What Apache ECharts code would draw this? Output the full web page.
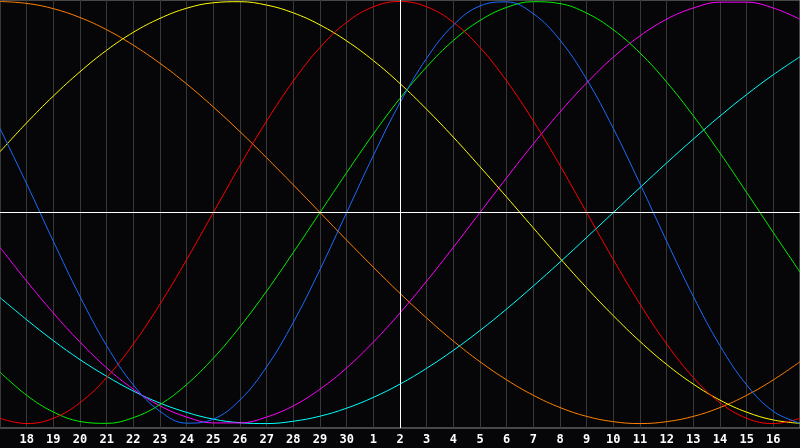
<!DOCTYPE html>
<html>
<head>
<meta charset="utf-8">
<script src="https://cdn.jsdelivr.net/npm/echarts@6/dist/echarts.min.js"></script>
<style>
html,body{margin:0;padding:0;background:#060608;}
#chart{width:800px;height:448px;}
</style>
</head>
<body>
<div id="chart"></div>
<script>
// Day labels along the x axis (first and last are hidden edges)
var days = ['17','18','19','20','21','22','23','24','25','26','27','28','29','30',
            '1','2','3','4','5','6','7','8','9','10','11','12','13','14','15','16','17'];
var todayLabel = '2';

// Curve values (percent) at each day line
var orangeVals = [100,99.1,96.6,92.4,86.6,79.3,70.7,60.9,50,38.3,25.9,13.1,0,-13.1,-25.9,-38.3,-50,-60.9,-70.7,-79.3,-86.6,-92.4,-96.6,-99.1,-100,-99.1,-96.6,-92.4,-86.6,-79.3,-70.7];
var yellowVals = [28.8,42.5,55.2,66.7,76.9,85.4,92.0,96.8,99.4,99.9,98.3,94.6,88.9,81.3,72.0,61.1,48.9,35.7,21.7,7.3,-7.3,-21.7,-35.7,-48.9,-61.1,-72.0,-81.3,-88.9,-94.6,-98.3,-99.9];
var cyanVals = [-40.3,-50.8,-60.7,-69.7,-77.6,-84.6,-90.3,-94.7,-97.9,-99.6,-100,-98.9,-96.5,-92.7,-87.6,-81.3,-73.8,-65.3,-55.9,-45.7,-34.8,-23.5,-11.8,0,11.8,23.5,34.8,45.7,55.9,65.3,73.8];
var magentaVals = [-16.5,-32.5,-47.6,-61.4,-73.6,-83.7,-91.6,-96.9,-99.7,-99.7,-96.9,-91.6,-83.7,-73.6,-61.4,-47.6,-32.5,-16.5,0,16.5,32.5,47.6,61.4,73.6,83.7,91.6,96.9,99.7,99.7,96.9,91.6];
var greenVals = [-75.6,-86.6,-94.5,-99.0,-99.9,-97.2,-91.0,-81.5,-69.0,-54.1,-37.2,-18.9,0,18.9,37.2,54.1,69.0,81.5,91.0,97.2,99.9,99.0,94.5,86.6,75.6,61.8,45.8,28.2,9.5,-9.5,-28.2];
var redVals = [-97.5,-100,-97.5,-90.1,-78.2,-62.3,-43.4,-22.3,0,22.3,43.4,62.3,78.2,90.1,97.5,100,97.5,90.1,78.2,62.3,43.4,22.3,0,-22.3,-43.4,-62.3,-78.2,-90.1,-97.5,-100,-97.5];
var blueVals = [39.8,13.6,-13.6,-39.8,-63.1,-81.7,-94.2,-99.8,-97.9,-88.8,-73.1,-52.0,-27.0,0,27.0,52.0,73.1,88.8,97.9,99.8,94.2,81.7,63.1,39.8,13.6,-13.6,-39.8,-63.1,-81.7,-94.2,-99.8];

var curves = [
  {name:'orange', data: orangeVals, color:'#ff8000'},
  {name:'cyan', data: cyanVals, color:'#00ffff'},
  {name:'magenta', data: magentaVals, color:'#ff00ff'},
  {name:'yellow', data: yellowVals, color:'#ffff00'},
  {name:'green', data: greenVals, color:'#00f000'},
  {name:'red', data: redVals, color:'#ff0000'},
  {name:'blue', data: blueVals, color:'#1a6cff'}
];

var chart = echarts.init(document.getElementById('chart'), null, {renderer:'canvas'});

var series = [{
  type:'line', data:[], z:1, silent:true,
  markLine:{
    silent:true, symbol:'none', animation:false,
    label:{show:false},
    lineStyle:{color:'#ffffff', type:'solid', width:1},
    data:[{yAxis:0},{xAxis:todayLabel}]
  }
}];
curves.forEach(function(c){
  series.push({
    type:'line', name:c.name, data:c.data, z:2,
    smooth:0.4, showSymbol:false, symbol:'none',
    lineStyle:{color:c.color, width:1},
    itemStyle:{color:c.color}
  });
});

chart.setOption({
  backgroundColor:'#060608',
  animation:false,
  grid:{left:0, right:0, top:0, bottom:20, show:true, borderColor:'#8a8a8a', borderWidth:1, backgroundColor:'transparent'},
  xAxis:{
    type:'category', data:days, boundaryGap:false,
    axisLine:{show:true, lineStyle:{color:'#8a8a8a', width:1}},
    axisTick:{show:false},
    axisLabel:{
      color:'#ffffff', fontFamily:'DejaVu Sans Mono', fontWeight:'bold', fontSize:12, margin:6,
      interval:function(i){ return i>0 && i<days.length-1; }
    },
    splitLine:{show:true, interval:0, lineStyle:{color:'#383838', width:1}}
  },
  yAxis:{
    type:'value', min:-102.1, max:100.7, show:false,
    splitLine:{show:false}
  },
  series:series
});
</script>
</body>
</html>
